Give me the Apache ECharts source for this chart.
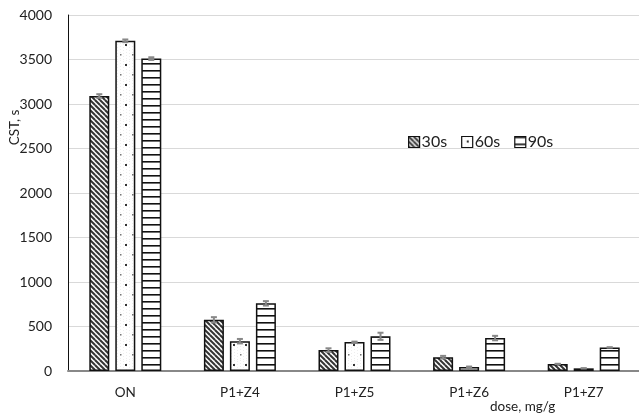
<!DOCTYPE html>
<html><head><meta charset="utf-8">
<script src="https://cdn.jsdelivr.net/npm/echarts@6/dist/echarts.min.js"></script>
<style>html,body{margin:0;padding:0;background:#fff}#c{width:639px;height:419px}</style>
</head><body><div id="c"></div>
<script>
const categories = ['ON', 'P1+Z4', 'P1+Z5', 'P1+Z6', 'P1+Z7'];
const seriesNames = ['30s', '60s', '90s'];
const values30 = [3090, 575, 235, 155, 80];
const values60 = [3710, 335, 325, 45, 30];
const values90 = [3510, 760, 390, 370, 265];
const err30 = [20, 30, 20, 15, 0];
const err60 = [15, 25, 5, 5, 0];
const err90 = [15, 25, 40, 25, 0];
const yTicks = [0, 500, 1000, 1500, 2000, 2500, 3000, 3500, 4000];

function mk(w, h, draw) {
  const c = document.createElement('canvas'); c.width = w; c.height = h;
  const g = c.getContext('2d'); g.fillStyle = '#fff'; g.fillRect(0, 0, w, h); draw(g); return c;
}
const pat30 = mk(5, 5, g => {
  g.strokeStyle = '#333'; g.lineWidth = 2;
  [[-5,-5],[0,0],[5,5],[-5,0],[0,-5],[5,0],[0,5]].forEach(([dx,dy]) => {
    g.beginPath(); g.moveTo(dx, dy); g.lineTo(dx + 5, dy + 5); g.stroke();
  });
});
const pat60 = mk(12, 20, g => {
  g.fillStyle = '#eeeeee';
  for (let x = 0; x < 12; x += 3) for (let y = (x % 2); y < 20; y += 3) g.fillRect(x, y, 1, 1);
  g.fillStyle = '#333'; g.fillRect(5, 4, 2, 2);
  g.fillStyle = '#777'; g.fillRect(0, 14, 1.5, 1.5);
});
const pat90 = mk(4, 7, g => { g.fillStyle = '#111'; g.fillRect(0, 0, 4, 1.6); });
const pats = [pat30, pat60, pat90];
const vals = [values30, values60, values90];
const errs = [err30, err60, err90];

const font = 'Lato, "Open Sans", sans-serif';
const series = [];
seriesNames.forEach((n, i) => {
  series.push({
    name: n, type: 'bar', data: vals[i], barWidth: 20, barGap: '30%',
    itemStyle: { color: { image: pats[i], repeat: 'repeat' }, borderColor: '#111', borderWidth: 1.5 }
  });
});
seriesNames.forEach((n, i) => {
  series.push({
    type: 'custom', silent: true, z: 5,
    data: categories.map((c, k) => [k, vals[i][k], errs[i][k]]),
    renderItem: (params, api) => {
      const k = api.value(0), v = api.value(1), e = api.value(2);
      const off = (i - 1) * 26;
      const top = api.coord([k, v + e]), bot = api.coord([k, v - e]);
      const x = top[0] + off;
      return { type: 'group', children: [
        { type: 'line', shape: { x1: x, y1: top[1], x2: x, y2: bot[1] }, style: { stroke: '#888', lineWidth: 2 } },
        { type: 'line', shape: { x1: x - 3, y1: top[1], x2: x + 3, y2: top[1] }, style: { stroke: '#888', lineWidth: 2 } },
        { type: 'line', shape: { x1: x - 3, y1: bot[1], x2: x + 3, y2: bot[1] }, style: { stroke: '#888', lineWidth: 2 } }
      ] };
    }
  });
});

const chart = echarts.init(document.getElementById('c'), null, { renderer: 'canvas' });
chart.setOption({
  animation: false,
  textStyle: { fontFamily: font },
  grid: { left: 68, right: -2, top: 15, bottom: 48, containLabel: false, outerBoundsMode: 'none' },
  legend: {
    data: seriesNames, left: 403, top: 129, itemWidth: 11, itemHeight: 11, itemGap: 14, icon: 'rect',
    textStyle: { fontSize: 16, color: '#222', fontFamily: font, padding: [0, 0, 0, -3] },
    itemStyle: { borderColor: '#111', borderWidth: 1.2 }
  },
  xAxis: {
    type: 'category', data: categories,
    axisLine: { lineStyle: { color: '#888', width: 2 } },
    axisTick: { show: false },
    axisLabel: { fontSize: 13.5, color: '#222', margin: 15 }
  },
  yAxis: {
    type: 'value', min: 0, max: 4000, interval: 500,
    axisLine: { show: true, lineStyle: { color: '#111', width: 1 } },
    axisTick: { show: false },
    splitLine: { lineStyle: { color: '#d9d9d9', width: 1 } },
    axisLabel: { fontSize: 14, color: '#222', margin: 16, formatter: v => yTicks.includes(v) ? String(v) : '' }
  },
  graphic: [{
    type: 'text', x: 8, y: 127.5, rotation: Math.PI / 2,
    style: { text: 'CST, s', fontSize: 13.5, fill: '#222', fontFamily: font, align: 'center', verticalAlign: 'top' }
  }, {
    type: 'text', x: 490, y: 407,
    style: { text: 'dose, mg/g', fontSize: 13.5, fill: '#222', fontFamily: font, align: 'left', verticalAlign: 'middle' }
  }],
  series
});
</script></body></html>
